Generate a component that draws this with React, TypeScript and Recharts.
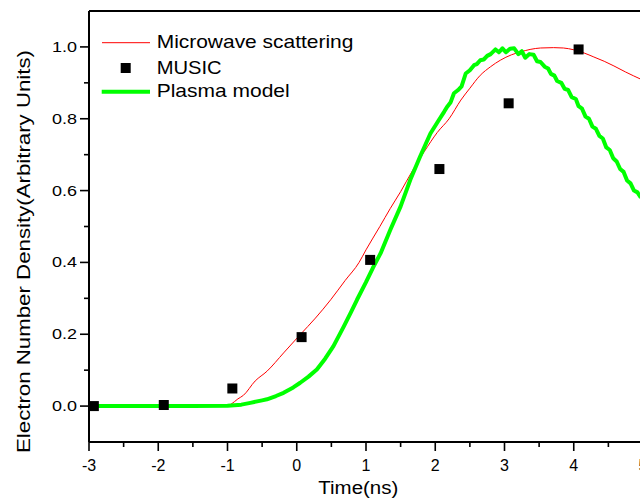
import React from "react";
import { ComposedChart, Line, Scatter, XAxis, YAxis } from "recharts";

const X_TICKS = [-3, -2.5, -2, -1.5, -1, -0.5, 0, 0.5, 1, 1.5, 2, 2.5, 3, 3.5, 4, 4.5, 5];
const Y_TICKS = [0, 0.1, 0.2, 0.3, 0.4, 0.5, 0.6, 0.7, 0.8, 0.9, 1.0];

const microwaveT = [-3, -1, -0.95, -0.85, -0.77, -0.6, -0.43, -0.19, 0.05, 0.27, 0.49, 0.7, 0.9, 1.0, 1.2, 1.35, 1.5, 1.67, 1.84, 2.03, 2.2, 2.37, 2.5, 2.65, 2.8, 2.94, 3.1, 3.23, 3.37, 3.52, 3.71, 3.85, 4.0, 4.15, 4.29, 4.44, 4.58, 4.75, 4.97];
const microwaveV = [0, 0, 0.005, 0.02, 0.03, 0.07, 0.097, 0.148, 0.199, 0.245, 0.296, 0.35, 0.4, 0.435, 0.5, 0.55, 0.597, 0.655, 0.708, 0.762, 0.8, 0.852, 0.885, 0.921, 0.945, 0.963, 0.978, 0.986, 0.993, 0.997, 0.998, 0.997, 0.992, 0.983, 0.972, 0.96, 0.947, 0.93, 0.91];

const musicT = [-2.93, -1.92, -0.93, 0.07, 1.06, 2.06, 3.06, 4.07];
const musicV = [0, 0.003, 0.049, 0.192, 0.407, 0.66, 0.843, 0.993];

const plasmaT = [-3, -1.5, -1.0, -0.8, -0.67, -0.5, -0.43, -0.3, -0.19, -0.05, 0.05, 0.17, 0.29, 0.41, 0.53, 0.68, 0.78, 0.87, 1.0, 1.1, 1.21, 1.35, 1.5, 1.64, 1.78, 1.93, 2.05, 2.13, 2.17, 2.22, 2.27, 2.33, 2.38, 2.44, 2.5, 2.56, 2.6, 2.65, 2.7, 2.75, 2.8, 2.87, 2.92, 2.97, 3.02, 3.08, 3.14, 3.2, 3.25, 3.3, 3.36, 3.42, 3.47, 3.52, 3.58, 3.63, 3.67, 3.72, 3.76, 3.82, 3.87, 3.92, 3.97, 4.03, 4.07, 4.12, 4.17, 4.22, 4.27, 4.32, 4.37, 4.42, 4.47, 4.52, 4.57, 4.62, 4.67, 4.72, 4.77, 4.82, 4.87, 4.92, 4.97];
const plasmaV = [0, 0, 0.001, 0.004, 0.009, 0.016, 0.019, 0.028, 0.037, 0.052, 0.065, 0.082, 0.102, 0.132, 0.167, 0.222, 0.26, 0.296, 0.345, 0.385, 0.425, 0.49, 0.556, 0.63, 0.694, 0.759, 0.796, 0.82, 0.833, 0.845, 0.871, 0.88, 0.89, 0.926, 0.935, 0.949, 0.952, 0.963, 0.965, 0.975, 0.98, 0.993, 0.985, 0.996, 0.985, 0.995, 0.996, 0.98, 0.988, 0.97, 0.98, 0.978, 0.96, 0.958, 0.945, 0.94, 0.925, 0.92, 0.905, 0.9, 0.883, 0.88, 0.86, 0.855, 0.835, 0.828, 0.806, 0.8, 0.778, 0.772, 0.752, 0.745, 0.72, 0.713, 0.69, 0.681, 0.66, 0.652, 0.628, 0.62, 0.6, 0.595, 0.58];

const microwaveData = microwaveT.map((t, i) => ({ t, v: microwaveV[i] }));
const musicData = musicT.map((t, i) => ({ t, v: musicV[i] }));
const plasmaData = plasmaT.map((t, i) => ({ t, v: plasmaV[i] }));

const FONT = "'Liberation Sans', Arial, Helvetica, sans-serif";

const YTick = (props: any) => {
  const { x, y, payload } = props;
  const v = payload.value as number;
  const major = Math.round(v * 10) % 2 === 0;
  return (
    <g>
      <line x1={x} x2={x - (major ? 9 : 5)} y1={y} y2={y} stroke="#000" strokeWidth={1.6} />
      {major && (
        <text x={x - 12} y={y + 5} textAnchor="end" fontSize={14} fontFamily={FONT} fill="#000" textLength={25} lengthAdjust="spacingAndGlyphs">
          {v.toFixed(1)}
        </text>
      )}
    </g>
  );
};

const XTick = (props: any) => {
  const { x, y, payload } = props;
  const v = payload.value as number;
  const major = Number.isInteger(v);
  return (
    <g>
      <line x1={x} x2={x} y1={y} y2={y + (major ? 9 : 5)} stroke="#000" strokeWidth={1.6} />
      {major && (
        <text x={x} y={y + 29} textAnchor="middle" fontSize={16} fontFamily={FONT} fill="#000">
          {String(v)}
        </text>
      )}
    </g>
  );
};

const TopTick = (props: any) => {
  const { x, y } = props;
  return <line x1={x} x2={x} y1={y} y2={y + 3} stroke="#000" strokeWidth={1.4} />;
};

const Square = (props: any) => {
  const { cx, cy } = props;
  if (cx == null || cy == null) return null;
  return <rect x={cx - 5} y={cy - 5} width={10} height={10} fill="#000" />;
};

export default function App() {
  return (
    <div style={{ position: "fixed", left: 0, top: 0, width: 640, height: 501, overflow: "hidden", background: "#fff" }}>
      <ComposedChart width={660} height={501} margin={{ top: 0, right: 17, left: 0, bottom: 0 }}>
        <XAxis
          dataKey="t"
          type="number"
          domain={[-3, 5]}
          ticks={X_TICKS}
          allowDataOverflow
          height={59}
          tickSize={0}
          tickMargin={0}
          tickLine={false}
          tick={<XTick />}
          interval={0}
          axisLine={{ stroke: "#000", strokeWidth: 2 }}
        />
        <XAxis
          xAxisId="top"
          orientation="top"
          dataKey="t"
          type="number"
          domain={[-3, 5]}
          ticks={X_TICKS}
          height={11}
          tickSize={0}
          tickMargin={0}
          tickLine={false}
          tick={<TopTick />}
          interval={0}
          axisLine={{ stroke: "#000", strokeWidth: 2 }}
        />
        <YAxis
          dataKey="v"
          type="number"
          domain={[-0.1, 1.1]}
          ticks={Y_TICKS}
          allowDataOverflow
          width={89}
          tickSize={0}
          tickMargin={0}
          tickLine={false}
          tick={<YTick />}
          interval={0}
          axisLine={{ stroke: "#000", strokeWidth: 2 }}
        />
        <Line data={microwaveData} dataKey="v" type="monotone" stroke="#ff0000" strokeWidth={1} dot={false} isAnimationActive={false} />
        <Scatter data={musicData} dataKey="v" fill="#000" shape={<Square />} isAnimationActive={false} />
        <Line data={plasmaData} dataKey="v" type="linear" stroke="#00ff00" strokeWidth={4} strokeLinejoin="round" dot={false} isAnimationActive={false} />
      </ComposedChart>
      <svg width={640} height={501} style={{ position: "absolute", left: 0, top: 0, pointerEvents: "none" }}>
        <line x1={102} x2={150} y1={42.7} y2={42.7} stroke="#ff0000" strokeWidth={1} />
        <text x={156.7} y={48.3} fontSize={18.5} fontFamily={FONT} fill="#000" textLength={196.7} lengthAdjust="spacingAndGlyphs">Microwave scattering</text>
        <rect x={120.7} y={63} width={10} height={10} fill="#000" />
        <text x={156.7} y={74.3} fontSize={18.5} fontFamily={FONT} fill="#000" textLength={65} lengthAdjust="spacingAndGlyphs">MUSIC</text>
        <line x1={101.7} x2={150} y1={91.7} y2={91.7} stroke="#00ff00" strokeWidth={4} />
        <text x={156.7} y={97.4} fontSize={18.5} fontFamily={FONT} fill="#000" textLength={133} lengthAdjust="spacingAndGlyphs">Plasma model</text>
        <text x={358.3} y={494.3} textAnchor="middle" fontSize={17.5} fontFamily={FONT} fill="#000" textLength={80} lengthAdjust="spacingAndGlyphs">Time(ns)</text>
        <text x={30} y={251.5} textAnchor="middle" fontSize={18.5} fontFamily={FONT} fill="#000" textLength={403} lengthAdjust="spacingAndGlyphs" transform="rotate(-90, 30, 251.5)">Electron Number Density(Arbitrary Units)</text>
      </svg>
    </div>
  );
}
